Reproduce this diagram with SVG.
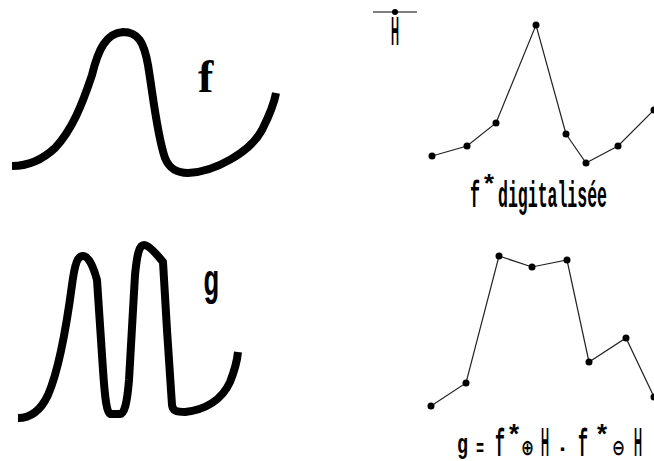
<svg xmlns="http://www.w3.org/2000/svg" width="654" height="461" viewBox="0 0 654 461">
<style>
.curve{fill:none;stroke:#000;stroke-width:8;stroke-linejoin:round;stroke-linecap:butt}
.poly{fill:none;stroke:#222;stroke-width:1.2}
.dot{fill:#000}
.mono{font-family:"Liberation Mono",monospace;font-weight:bold;fill:#000}
.sans{font-family:"Liberation Sans",sans-serif;font-weight:bold;fill:#000}
.serif{font-family:"Liberation Serif",serif;font-weight:bold;fill:#000}
.op{font-family:"DejaVu Sans",sans-serif;fill:#000}
</style>
<rect width="654" height="461" fill="#fff"/>
<g id="curve-f">
<path class="curve" d="M12,166 C25,166 40,162 55,148 C72,130 82,105 92,75 C98,50 106,33 123,32 C138,32 144,42 148,65 C153,95 157,135 165,158 C170,170 178,173 188,173 C215,172 250,152 262,130 C268,118 274,105 276,93"/>
<text class="serif" x="198" y="92" font-size="46">f</text>
</g>
<g id="curve-g">
<path class="curve" d="M18,418 C30,418 40,412 48,395 C58,372 66,330 72,285 C75,262 78,256 83,256 C88,256 93,265 97,280 L103,370 C105,400 107,413 110,414 L120,414 C124,414 127,405 129,380 L135,275 C137,255 139,245 144,245 C148,245 155,252 163,262 L167,330 L172,405 C173,411 176,412 185,412 C205,410 222,400 230,382 C234,372 237,362 238,352"/>
<text class="mono" x="203" y="295" font-size="44" textLength="16" lengthAdjust="spacingAndGlyphs">g</text>
</g>
<g id="legend-H">
<line x1="373" y1="12" x2="417" y2="12" stroke="#000" stroke-width="1.2"/>
<circle class="dot" cx="395" cy="12" r="3"/>
<text class="sans" x="391" y="45" font-size="40" textLength="8" lengthAdjust="spacingAndGlyphs">H</text>
</g>
<g id="connectors">
<polyline class="poly" points="432,156 467,146 496,123 536,25 566,134 586,163 618,146 654,110"/>
<polyline class="poly" points="431,406 466,383 499,256 532,267 567,260 589,362 626,338 654,397"/>
</g>
<g id="fstar-points">
<circle class="dot" cx="432" cy="156" r="3.5"/>
<circle class="dot" cx="467" cy="146" r="3.5"/>
<circle class="dot" cx="496" cy="123" r="3.5"/>
<circle class="dot" cx="536" cy="25" r="3.5"/>
<circle class="dot" cx="566" cy="134" r="3.5"/>
<circle class="dot" cx="586" cy="163" r="3.5"/>
<circle class="dot" cx="618" cy="146" r="3.5"/>
<circle class="dot" cx="654" cy="110" r="3.5"/>
</g>
<g id="fstar-label">
<text class="mono" x="470" y="207" font-size="36" textLength="10" lengthAdjust="spacingAndGlyphs">f</text>
<text class="sans" x="484" y="192" font-size="26" textLength="10" lengthAdjust="spacingAndGlyphs">*</text>
<text class="mono" x="498" y="207" font-size="36" textLength="109" lengthAdjust="spacingAndGlyphs">digitalisée</text>
</g>
<g id="g-points">
<circle class="dot" cx="431" cy="406" r="3.5"/>
<circle class="dot" cx="466" cy="383" r="3.5"/>
<circle class="dot" cx="499" cy="256" r="3.5"/>
<circle class="dot" cx="532" cy="267" r="3.5"/>
<circle class="dot" cx="567" cy="260" r="3.5"/>
<circle class="dot" cx="589" cy="362" r="3.5"/>
<circle class="dot" cx="626" cy="338" r="3.5"/>
<circle class="dot" cx="654" cy="397" r="3.5"/>
</g>
<g id="g-label">
<text class="mono" x="457" y="453" font-size="28" textLength="11" lengthAdjust="spacingAndGlyphs">g</text>
<text class="mono" x="476" y="456" font-size="24" textLength="8" lengthAdjust="spacingAndGlyphs">=</text>
<text class="mono" x="495" y="456" font-size="38" textLength="10" lengthAdjust="spacingAndGlyphs">f</text>
<text class="sans" x="509" y="443" font-size="28" textLength="10" lengthAdjust="spacingAndGlyphs">*</text>
<text class="op" x="521" y="455" font-size="22" font-weight="bold" textLength="13" lengthAdjust="spacingAndGlyphs">⊕</text>
<text class="sans" x="541" y="456" font-size="40" textLength="8" lengthAdjust="spacingAndGlyphs">H</text>
<text class="mono" x="559" y="457" font-size="30" textLength="7" lengthAdjust="spacingAndGlyphs">-</text>
<text class="mono" x="578" y="456" font-size="38" textLength="10" lengthAdjust="spacingAndGlyphs">f</text>
<text class="sans" x="597" y="443" font-size="28" textLength="10" lengthAdjust="spacingAndGlyphs">*</text>
<text class="op" x="612" y="455" font-size="22" font-weight="bold" textLength="13" lengthAdjust="spacingAndGlyphs">⊖</text>
<text class="sans" x="634" y="456" font-size="40" textLength="8" lengthAdjust="spacingAndGlyphs">H</text>
</g>
</svg>
